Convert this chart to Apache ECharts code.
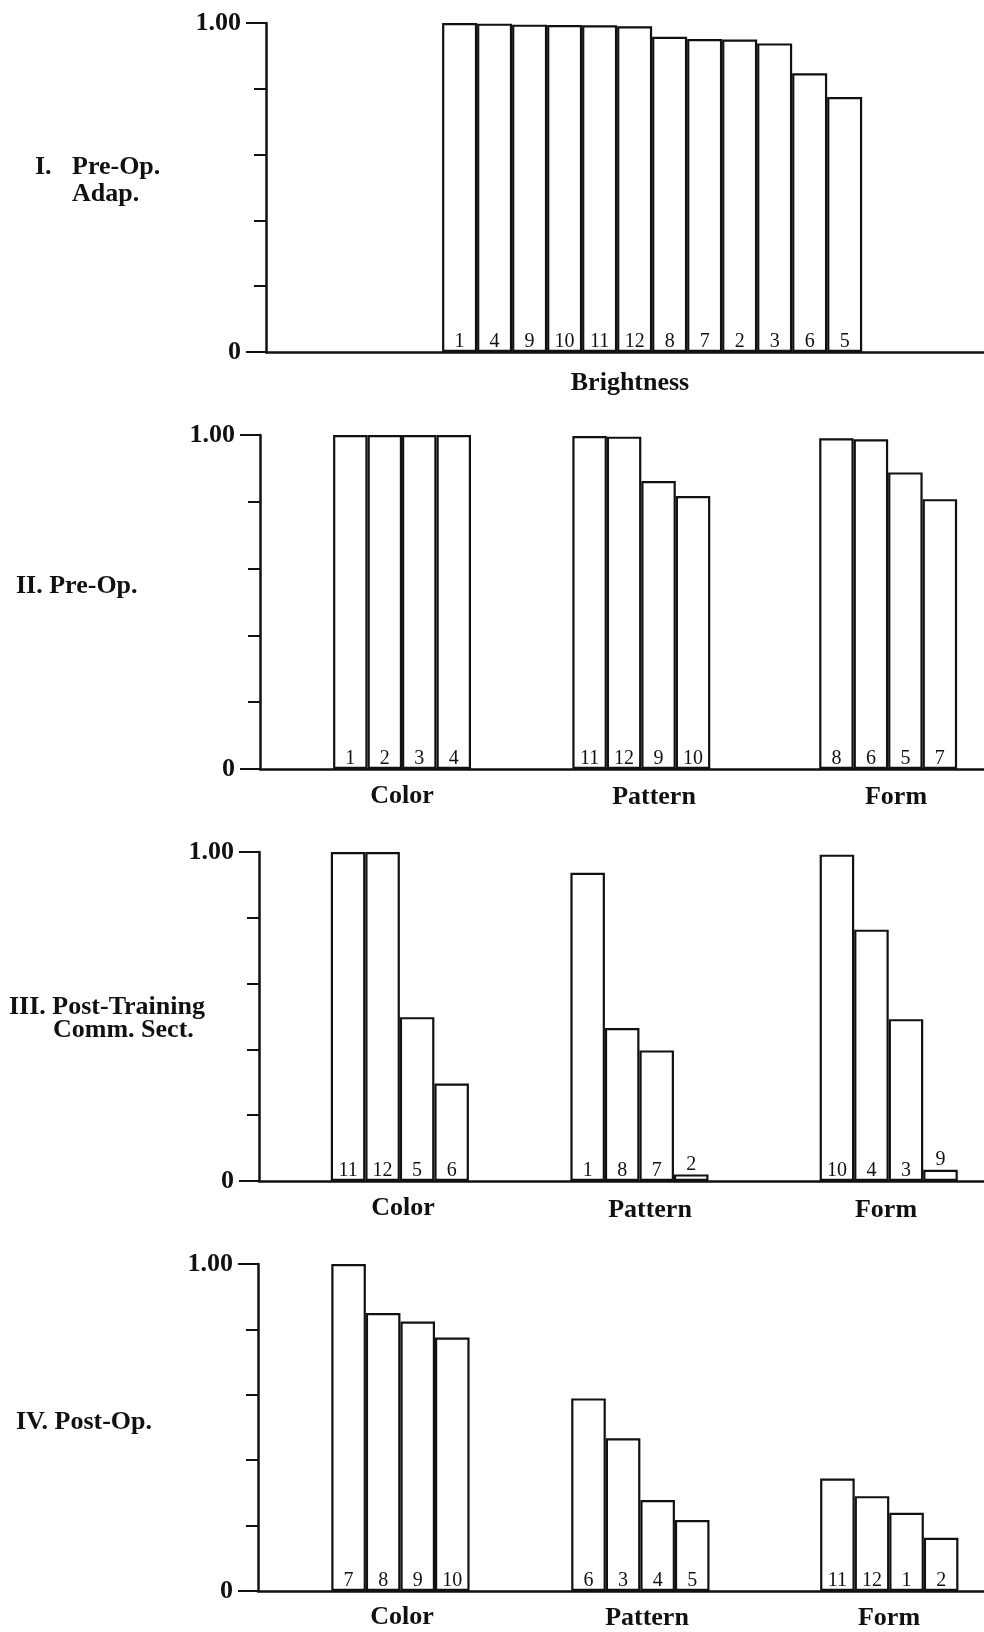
<!DOCTYPE html>
<html><head><meta charset="utf-8">
<script src="https://cdn.jsdelivr.net/npm/echarts@6/dist/echarts.min.js"></script>
<style>html,body{margin:0;padding:0;background:#fff}#c{width:984px;height:1632px}</style>
</head><body><div id="c"></div>
<script>
// ---------------- DATA ----------------
const groupNames = ['Color', 'Pattern', 'Form'];
const yTickLabels = {0: '0', 1: '1.00'};

// Panel I. Pre-Op. Adap. (Brightness)
const p1Title = ['I.', 'Pre-Op.', 'Adap.'];
const p1Category = 'Brightness';
const p1Subjects = ['1','4','9','10','11','12','8','7','2','3','6','5'];
const p1Values   = [1.00, 0.998, 0.995, 0.994, 0.993, 0.99, 0.958, 0.951, 0.95, 0.938, 0.847, 0.775];

// Panel II. Pre-Op.
const p2Title = 'II. Pre-Op.';
const p2ColorSubjects   = ['1','2','3','4'];
const p2ColorValues     = [1.00, 1.00, 1.00, 1.00];
const p2PatternSubjects = ['11','12','9','10'];
const p2PatternValues   = [0.997, 0.995, 0.862, 0.817];
const p2FormSubjects    = ['8','6','5','7'];
const p2FormValues      = [0.99, 0.987, 0.888, 0.808];

// Panel III. Post-Training Comm. Sect.
const p3Title = ['III. Post-Training', 'Comm. Sect.'];
const p3ColorSubjects   = ['11','12','5','6'];
const p3ColorValues     = [1.00, 1.00, 0.498, 0.296];
const p3PatternSubjects = ['1','8','7','2'];
const p3PatternValues   = [0.937, 0.465, 0.397, 0.02];
const p3FormSubjects    = ['10','4','3','9'];
const p3FormValues      = [0.992, 0.764, 0.492, 0.034];

// Panel IV. Post-Op.
const p4Title = 'IV. Post-Op.';
const p4ColorSubjects   = ['7','8','9','10'];
const p4ColorValues     = [1.00, 0.85, 0.824, 0.775];
const p4PatternSubjects = ['6','3','4','5'];
const p4PatternValues   = [0.589, 0.467, 0.278, 0.217];
const p4FormSubjects    = ['11','12','1','2'];
const p4FormValues      = [0.344, 0.29, 0.239, 0.163];

// ---------------- LAYOUT ----------------
const W = 984;
const INK = '#111';
const BIG = 'bold 26px "Liberation Serif", "Times New Roman", serif';
const panels = [
  { axisX: 266, top: 23,  zero: 352,  max: 20.51, starts: [5.03],
    groups: [[p1Subjects, p1Values]],
    catLabels: [[p1Category, 630, 383]] },
  { axisX: 260, top: 435, zero: 769,  max: 21, starts: [2.12, 9.06, 16.22],
    groups: [[p2ColorSubjects, p2ColorValues], [p2PatternSubjects, p2PatternValues], [p2FormSubjects, p2FormValues]],
    catLabels: [[groupNames[0], 402, 796], [groupNames[1], 654, 797], [groupNames[2], 896, 797]] },
  { axisX: 259, top: 852, zero: 1181, max: 21, starts: [2.08, 9.02, 16.24],
    groups: [[p3ColorSubjects, p3ColorValues], [p3PatternSubjects, p3PatternValues], [p3FormSubjects, p3FormValues]],
    catLabels: [[groupNames[0], 403, 1208], [groupNames[1], 650, 1210], [groupNames[2], 886, 1210]] },
  { axisX: 258, top: 1264, zero: 1591, max: 21, starts: [2.12, 9.06, 16.26],
    groups: [[p4ColorSubjects, p4ColorValues], [p4PatternSubjects, p4PatternValues], [p4FormSubjects, p4FormValues]],
    catLabels: [[groupNames[0], 402, 1617], [groupNames[1], 647, 1618], [groupNames[2], 889, 1618]] }
];

const grids = [], xAxes = [], yAxes = [], series = [], graphics = [];

panels.forEach((p, g) => {
  const gw = W - p.axisX;
  grids.push({ left: p.axisX, top: p.top, width: gw, height: p.zero - p.top });
  xAxes.push({
    gridIndex: g, type: 'value', min: 0, max: p.max,
    axisLine: { show: true, onZero: false, lineStyle: { color: INK, width: 2.5 } },
    axisTick: { show: false }, axisLabel: { show: false }, splitLine: { show: false }
  });
  // minor ticks + axis line
  yAxes.push({
    gridIndex: g, type: 'value', min: 0, max: 1, interval: 0.2, position: 'left',
    axisLine: { show: true, lineStyle: { color: INK, width: 2.5 } },
    axisTick: { show: true, length: 12, lineStyle: { color: INK, width: 2 } },
    axisLabel: { show: false }, splitLine: { show: false }
  });
  // labelled ticks
  yAxes.push({
    gridIndex: g, type: 'value', min: 0, max: 1, interval: 1, position: 'left',
    axisLine: { show: false },
    axisTick: { show: true, length: 20, lineStyle: { color: INK, width: 2 } },
    axisLabel: { show: true, margin: 25, color: INK, fontFamily: '"Liberation Serif", serif',
      fontWeight: 'bold', fontSize: 26, formatter: v => yTickLabels[v] },
    splitLine: { show: false }
  });
  const data = [];
  p.groups.forEach((grp, k) => {
    const [subs, vals] = grp;
    vals.forEach((v, i) => {
      const item = { value: [p.starts[k] + i + 0.5, v], name: subs[i] };
      if (v < 0.1) item.label = { position: 'top', distance: 0 };
      data.push(item);
    });
  });
  series.push({
    type: 'bar', xAxisIndex: g, yAxisIndex: 2 * g,
    barWidth: gw / p.max, barGap: '0%',
    itemStyle: { color: '#fff', borderColor: INK, borderWidth: 2.2 },
    label: { show: true, position: 'insideBottom', distance: 0, color: INK,
      fontFamily: '"Liberation Serif", serif', fontSize: 20, formatter: pr => pr.name },
    data: data, animation: false, silent: true
  });
  p.catLabels.forEach(([t, x, y]) => {
    graphics.push({ type: 'text', x: x, y: y,
      style: { text: t, font: BIG, fill: INK, textAlign: 'center', align: 'center',
               textVerticalAlign: 'middle', verticalAlign: 'middle' } });
  });
});

function addText(t, x, y) {
  graphics.push({ type: 'text', x: x, y: y,
    style: { text: t, font: BIG, fill: INK, textAlign: 'left', align: 'left',
             textVerticalAlign: 'middle', verticalAlign: 'middle' } });
}
addText(p1Title[0], 35, 167);
addText(p1Title[1], 72, 167);
addText(p1Title[2], 72, 194);
addText(p2Title, 16, 586);
addText(p3Title[0], 9, 1007);
addText(p3Title[1], 53, 1030);
addText(p4Title, 16, 1422);

const chart = echarts.init(document.getElementById('c'), null, { renderer: 'canvas' });
chart.setOption({
  backgroundColor: '#fff', animation: false,
  grid: grids, xAxis: xAxes, yAxis: yAxes, series: series, graphic: graphics
});
</script>
</body></html>
